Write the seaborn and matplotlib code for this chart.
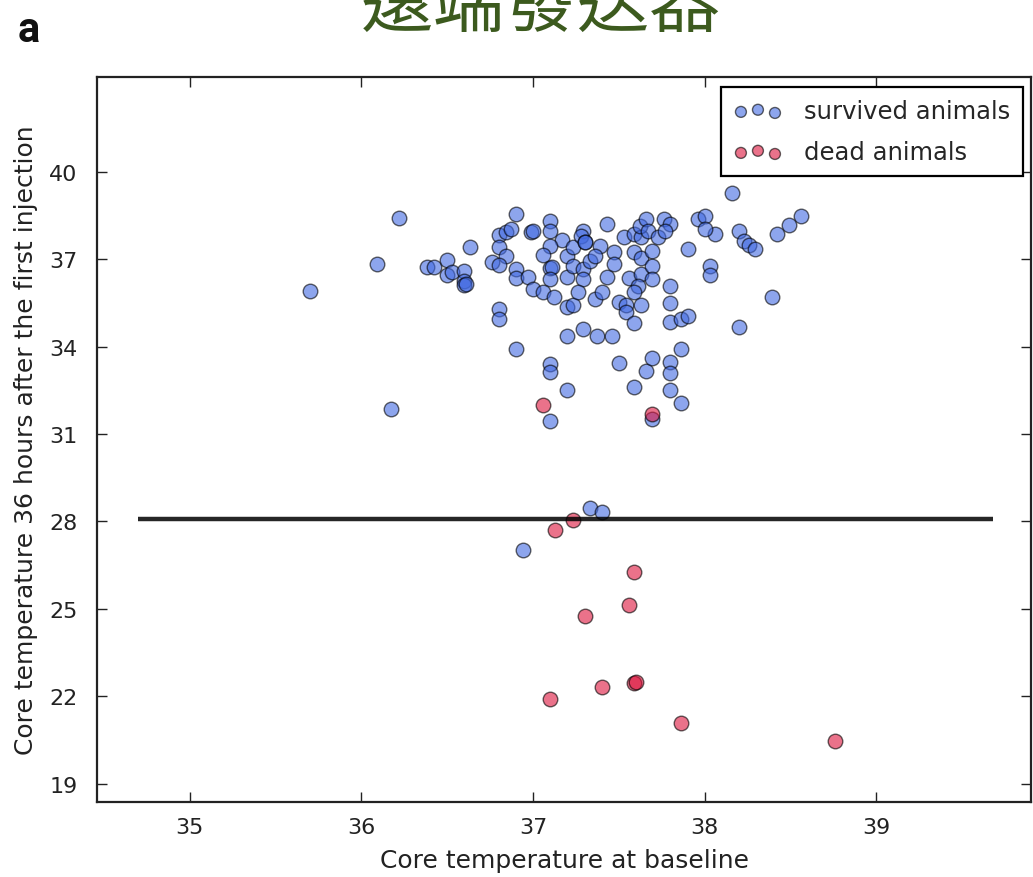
import matplotlib
matplotlib.use("Agg")
import matplotlib.pyplot as plt
import seaborn as sns
import pandas as pd

# survived animals: baseline temp vs temp 36h after first injection
survived_x = [35.70, 36.09, 36.22, 36.17, 36.38, 36.42, 36.50, 36.50, 36.53, 36.60,
              36.60, 36.60, 36.61, 36.63, 36.80, 36.80, 36.90, 36.90, 36.80, 36.84,
              36.87, 36.80, 36.84, 36.76, 36.80, 36.90, 36.90, 36.97, 36.94, 37.33,
              37.40, 36.99, 37.00, 37.10, 37.10, 37.17, 37.10, 37.06, 37.10, 37.11,
              37.10, 37.00, 37.06, 37.12, 37.20, 37.23, 37.20, 37.20, 37.23, 37.23,
              37.29, 37.29, 37.26, 37.29, 37.28, 37.30, 37.39, 37.43, 37.33, 37.43,
              37.47, 37.47, 37.50, 37.54, 37.54, 37.59, 37.36, 37.40, 37.53, 37.59,
              37.59, 37.63, 37.63, 37.62, 37.66, 37.67, 37.69, 37.73, 37.76, 37.80,
              37.77, 37.56, 37.63, 37.69, 37.69, 37.61, 37.59, 37.63, 37.20, 37.29,
              37.37, 37.46, 37.10, 37.10, 37.20, 37.10, 37.50, 37.59, 37.66, 37.69,
              37.80, 37.80, 37.80, 37.86, 37.86, 37.69, 38.16, 38.56, 38.49, 38.42,
              38.39, 38.20, 38.20, 38.23, 38.26, 38.29, 38.03, 38.03, 38.06, 37.96,
              38.00, 38.00, 37.90, 37.80, 37.80, 37.80, 37.86, 37.90, 37.30, 37.36]
survived_y = [35.90, 36.85, 38.42, 31.86, 36.74, 36.74, 36.98, 36.46, 36.57, 36.60,
              36.26, 36.12, 36.16, 37.42, 35.30, 34.95, 33.92, 38.56, 37.84, 37.94,
              38.04, 37.42, 37.12, 36.91, 36.81, 36.67, 36.36, 36.39, 27.02, 28.46,
              28.34, 37.94, 37.96, 38.32, 37.97, 37.66, 37.46, 37.15, 36.70, 36.74,
              36.33, 35.98, 35.88, 35.71, 35.36, 35.43, 36.40, 37.12, 37.42, 36.77,
              36.67, 36.33, 35.88, 37.97, 37.80, 37.59, 37.46, 38.21, 36.94, 36.40,
              37.25, 36.84, 35.54, 35.43, 35.19, 34.82, 35.64, 35.88, 37.77, 37.87,
              37.25, 37.05, 37.77, 38.15, 38.39, 37.97, 37.29, 37.77, 38.39, 38.21,
              37.97, 36.36, 36.50, 36.77, 36.33, 36.10, 35.88, 35.43, 34.37, 34.61,
              34.37, 34.37, 33.41, 33.13, 32.52, 31.45, 33.44, 32.62, 33.17, 33.61,
              33.48, 33.10, 32.52, 33.92, 32.07, 31.52, 39.28, 38.49, 38.18, 37.87,
              35.71, 34.68, 37.97, 37.63, 37.49, 37.36, 36.77, 36.46, 37.87, 38.39,
              38.49, 38.04, 37.36, 36.09, 35.50, 34.85, 34.95, 35.06, 37.59, 37.12]

# dead animals
dead_x = [37.06, 37.69, 37.13, 37.23, 37.59, 37.56, 37.30, 37.59, 37.60, 37.40,
          37.10, 37.86, 38.76]
dead_y = [32.00, 31.69, 27.72, 28.06, 26.28, 25.14, 24.77, 22.46, 22.50, 22.32,
          21.91, 21.09, 20.47]

threshold = 28.1
threshold_span = (34.70, 39.68)

x_ticks = [35, 36, 37, 38, 39]
y_ticks = [19, 22, 25, 28, 31, 34, 37, 40]

survived = pd.DataFrame({"baseline": survived_x, "after": survived_y})
dead = pd.DataFrame({"baseline": dead_x, "after": dead_y})

sns.set_style("ticks")
plt.rcParams['font.family'] = ['DejaVu Sans', 'Noto Sans CJK TC']

fig = plt.figure(figsize=(10.33, 8.78), dpi=100)
ax = fig.add_axes([0.094, 0.0854, 0.904, 0.8258])

sns.scatterplot(data=survived, x="baseline", y="after", ax=ax, color="royalblue",
                alpha=0.6, s=110, edgecolor="black", linewidth=1.0,
                label="survived animals", legend=False)
sns.scatterplot(data=dead, x="baseline", y="after", ax=ax, color="crimson",
                alpha=0.6, s=110, edgecolor="black", linewidth=1.0,
                label="dead animals", legend=False)

ax.hlines(threshold, threshold_span[0], threshold_span[1], color="black", lw=3.2, alpha=0.85)

ax.set_xlim(34.46, 39.90)
ax.set_ylim(18.37, 43.26)
ax.set_xticks(x_ticks)
ax.set_yticks(y_ticks)
ax.tick_params(direction="in", length=7, width=1, top=True, right=True,
               labelsize=16, colors="#222222")
ax.tick_params(axis="y", pad=14)
ax.tick_params(axis="x", pad=11)
for sp in ax.spines.values():
    sp.set_visible(True)
    sp.set_linewidth(1.6)
    sp.set_color("#222222")

ax.set_xlabel("Core temperature at baseline", fontsize=18, labelpad=8, color="#222222")
ax.set_ylabel("Core temperature 36 hours after the first injection", fontsize=18,
              labelpad=8, color="#222222")

leg = ax.legend(loc="upper right", scatterpoints=3, scatteryoffsets=[0.375, 0.5, 0.3125],
                fontsize=17.5, frameon=True, fancybox=False, handletextpad=0.9,
                borderpad=0.5, labelspacing=0.7, markerscale=0.75, handlelength=2.0,
                borderaxespad=0, bbox_to_anchor=(0.991, 0.986))
leg.get_frame().set_edgecolor("black")
leg.get_frame().set_linewidth(1.6)
leg.get_frame().set_alpha(1)

fig.text(0.524, 0.970, "遠端發送器", fontsize=52, color="#3c5a1e", ha="center",
         va="baseline", family=["Noto Sans CJK TC", "DejaVu Sans"])
fig.text(0.017, 0.952, "a", fontsize=30, fontweight="bold", color="#111111",
         va="baseline", family=["Roboto", "DejaVu Sans"])

fig.savefig("out.png", dpi=100)
